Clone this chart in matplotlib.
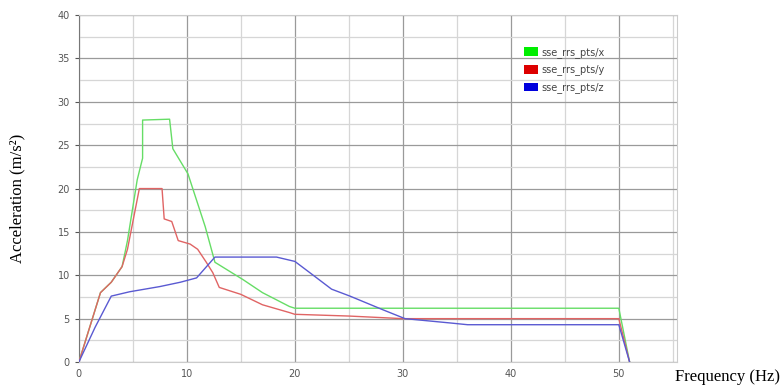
import matplotlib
matplotlib.use("Agg")
import matplotlib.pyplot as plt
from matplotlib.ticker import MultipleLocator
from matplotlib.patches import Patch

series_names = ["sse_rrs_pts/x", "sse_rrs_pts/y", "sse_rrs_pts/z"]
line_colors = ["#66dd66", "#e06464", "#5a5ad2"]
legend_colors = ["#00ee00", "#dd0000", "#0000dd"]

freq_x = [0, 1, 2, 3, 4, 4.5, 5.4, 5.9, 5.9, 8.4, 8.7, 10.1, 11.7, 12.6, 15.2, 17, 19.5, 20, 50, 51]
acc_x = [0, 4, 8, 9.2, 11, 14, 21, 23.5, 27.9, 28, 24.6, 21.7, 15.6, 11.5, 9.5, 8, 6.4, 6.2, 6.2, 0]

freq_y = [0, 1, 2, 3, 4, 4.5, 5.6, 7.7, 7.9, 8.6, 9.2, 10.3, 11, 11.8, 12.4, 13, 15, 17, 19.5, 20, 25, 30, 50, 51]
acc_y = [0, 4, 8, 9.2, 11, 13, 20, 20, 16.5, 16.2, 14, 13.6, 13, 11.5, 10.3, 8.6, 7.8, 6.6, 5.7, 5.5, 5.3, 5.0, 5.0, 0]

freq_z = [0, 1.5, 3, 4.7, 7.5, 9.4, 10.9, 12.6, 18.3, 20, 21.6, 23.4, 25.1, 28.2, 30.2, 34.4, 36, 50, 51]
acc_z = [0, 4, 7.6, 8.1, 8.7, 9.2, 9.7, 12.1, 12.1, 11.6, 10.1, 8.4, 7.6, 6.0, 5.0, 4.5, 4.3, 4.3, 0]

x_ticks = [0, 10, 20, 30, 40, 50]
y_ticks = [0, 5, 10, 15, 20, 25, 30, 35, 40]

fig = plt.figure(figsize=(7.81, 3.88), dpi=100)
ax = fig.add_axes([0.101, 0.067, 0.766, 0.894])

for f, a, c in zip([freq_x, freq_y, freq_z], [acc_x, acc_y, acc_z], line_colors):
    ax.plot(f, a, color=c, lw=1.0, zorder=3)

ax.set_xlim(0, 55.4)
ax.set_ylim(0, 40)
ax.set_xticks(x_ticks)
ax.set_yticks(y_ticks)
ax.xaxis.set_minor_locator(MultipleLocator(5))
ax.yaxis.set_minor_locator(MultipleLocator(2.5))
ax.grid(which="major", color="#9a9a9a", lw=0.9)
ax.grid(which="minor", color="#d6d6d6", lw=0.9)
ax.set_axisbelow(True)

for s in ["top", "right", "bottom"]:
    ax.spines[s].set_color("#cccccc")
ax.spines["left"].set_color("#777777")
ax.tick_params(axis="both", which="major", labelsize=7, colors="#555555", length=3)
ax.tick_params(axis="both", which="minor", length=0)
ax.tick_params(axis="x", length=0, pad=5)

handles = [Patch(facecolor=c, edgecolor="none") for c in legend_colors]
leg = ax.legend(handles, series_names, loc="upper left", bbox_to_anchor=(0.729, 0.934),
                frameon=False, fontsize=7, handlelength=1.5, handleheight=1.0,
                handletextpad=0.3, labelspacing=0.7)
for t in leg.get_texts():
    t.set_color("#444444")

fig.text(0.022, 0.49, "Acceleration (m/s²)", rotation=90, va="center", ha="center",
         family="Liberation Serif", fontsize=12)
fig.text(0.999, 0.028, "Frequency (Hz)", ha="right", va="center",
         family="Liberation Serif", fontsize=12)

fig.savefig("out.png", dpi=100)
